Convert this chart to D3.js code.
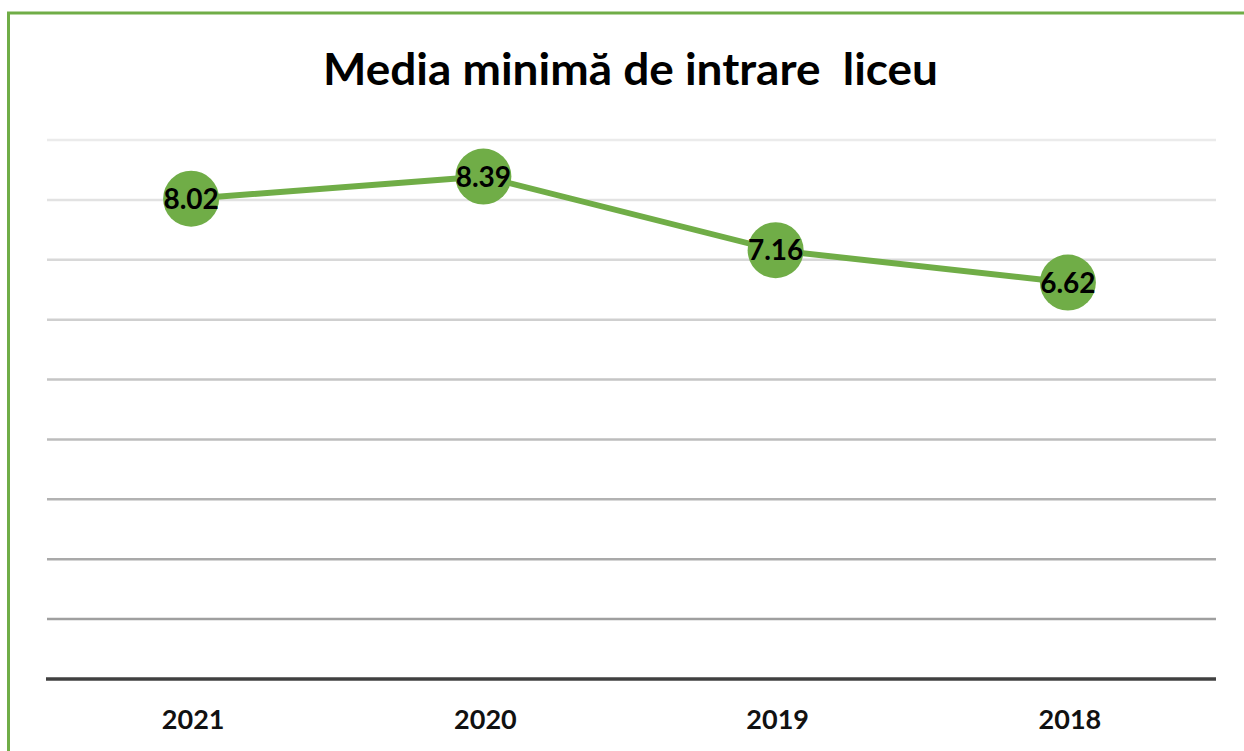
<!DOCTYPE html>
<html>
<head>
<meta charset="utf-8">
<script src="https://cdn.jsdelivr.net/npm/d3@7"></script>
<style>
  html, body { margin: 0; padding: 0; background: #ffffff; }
  svg { display: block; }
</style>
</head>
<body>
<script>
// ---- data ----
const title = "Media minimă de intrare  liceu";
const categories = ["2021", "2020", "2019", "2018"];
const values = [8.02, 8.39, 7.16, 6.62];
const gridTicks = [1, 2, 3, 4, 5, 6, 7, 8, 9];

const W = 1244, H = 751;
const green = "#70ad47";
const font = "Lato, 'Open Sans', 'DejaVu Sans', sans-serif";

const svg = d3.select("body").append("svg")
  .attr("width", W).attr("height", H);

// frame
svg.append("rect")
  .attr("x", 8.5).attr("y", 13)
  .attr("width", W + 20).attr("height", H + 20)
  .attr("fill", "#ffffff")
  .attr("stroke", green).attr("stroke-width", 3);

const x = d3.scaleBand().domain(categories).range([47, 1216]);
const y = d3.scaleLinear().domain([0, 9]).range([679, 140]);
const gridColor = d3.scaleLinear().domain([1, 9]).range(["#9f9f9f", "#ebebeb"]);

// gridlines
svg.append("g").selectAll("line").data(gridTicks).join("line")
  .attr("x1", 47).attr("x2", 1216)
  .attr("y1", d => y(d)).attr("y2", d => y(d))
  .attr("stroke", d => gridColor(d)).attr("stroke-width", 2.5);

// baseline axis
const xAxis = d3.axisBottom(x).tickSize(0).tickPadding(0);
const gx = svg.append("g").attr("transform", `translate(0,${y(0)})`).call(xAxis);
gx.select(".domain").attr("stroke", "#404040").attr("stroke-width", 3.5)
  .attr("d", `M46,0H1216`);
gx.selectAll(".tick text")
  .attr("y", 50).attr("dy", null)
  .attr("font-family", font).attr("font-weight", 700)
  .attr("font-size", 27).attr("fill", "#111111");

// line
const cx = d => x(d) + x.bandwidth() / 2;
const data = categories.map((c, i) => ({ c, v: values[i] }));
svg.append("path").datum(data)
  .attr("fill", "none").attr("stroke", green).attr("stroke-width", 6)
  .attr("stroke-linejoin", "round")
  .attr("d", d3.line().x(d => cx(d.c) - 2).y(d => y(d.v)));

// markers
svg.append("g").selectAll("circle").data(data).join("circle")
  .attr("cx", d => cx(d.c) - 2).attr("cy", d => y(d.v))
  .attr("r", 28).attr("fill", green);

// labels
svg.append("g").selectAll("text").data(data).join("text")
  .attr("x", d => cx(d.c) - 2).attr("y", d => y(d.v) + 10)
  .attr("text-anchor", "middle")
  .attr("font-family", font).attr("font-weight", 700)
  .attr("font-size", 28).attr("fill", "#000000")
  .text(d => d.v.toFixed(2));

// title
svg.append("text")
  .attr("x", 630.5).attr("y", 85)
  .attr("text-anchor", "middle")
  .attr("font-family", font).attr("font-weight", 700)
  .attr("font-size", 43).attr("fill", "#000000")
  .attr("textLength", 615).attr("lengthAdjust", "spacingAndGlyphs")
  .style("white-space", "pre")
  .attr("xml:space", "preserve")
  .text(title);
</script>
</body>
</html>
